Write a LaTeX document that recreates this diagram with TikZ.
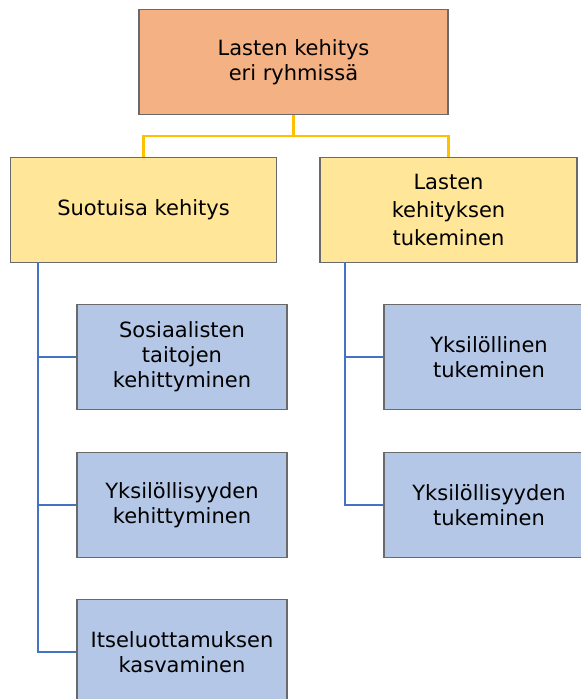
\documentclass[tikz,border=0pt]{standalone}
\usepackage{fontspec}
\setmainfont{DejaVu Sans}
\definecolor{topfill}{HTML}{F4B183}
\definecolor{midfill}{HTML}{FFE699}
\definecolor{lowfill}{HTML}{B4C7E7}
\definecolor{boxline}{HTML}{6A6A6A}
\definecolor{goldline}{HTML}{FFC000}
\definecolor{blueline}{HTML}{4472C4}
\tikzset{
  box/.style={draw=boxline, line width=1.2pt, rectangle, align=center, inner sep=0pt,
    font=\fontsize{21}{25}\selectfont, text=black},
  topbox/.style={box, fill=topfill, minimum width=309pt, minimum height=105pt},
  midbox/.style={box, fill=midfill, minimum height=104.5pt},
  lowbox/.style={box, fill=lowfill, minimum width=210pt, minimum height=105pt},
  goldconn/.style={draw=goldline, line width=2.8pt},
  blueconn/.style={draw=blueline, line width=2.8pt},
}
\begin{document}
\begin{tikzpicture}[x=1pt,y=-1pt]
\useasboundingbox (0,0) rectangle (581,699);
\node[topbox] (top) at (293.5,62) {Lasten kehitys\\eri ryhmissä};
\node[midbox, minimum width=266pt] (yl) at (143.5,210) {Suotuisa kehitys};
\node[midbox, minimum width=257pt, font=\fontsize{21}{28}\selectfont] (yr) at (448.5,210) {Lasten\\kehityksen\\tukeminen};
\node[lowbox] (l1) at (182,357) {Sosiaalisten\\taitojen\\kehittyminen};
\node[lowbox] (l2) at (182,505) {Yksilöllisyyden\\kehittyminen};
\node[lowbox] (l3) at (182,652) {Itseluottamuksen\\kasvaminen};
\node[lowbox] (r1) at (489,357) {Yksilöllinen\\tukeminen};
\node[lowbox] (r2) at (489,505) {Yksilöllisyyden\\tukeminen};
\coordinate (tl) at (38,262);
\coordinate (tr) at (345,262);
\coordinate (bus) at (293.5,136);
\draw[goldconn] (top.south) -- (bus) -| (yl.north);
\draw[goldconn] (bus) -| (yr.north);
\draw[blueconn] (tl) |- (l1.west);
\draw[blueconn] (tl) |- (l2.west);
\draw[blueconn] (tl) |- (l3.west);
\draw[blueconn] (tr) |- (r1.west);
\draw[blueconn] (tr) |- (r2.west);
\end{tikzpicture}
\end{document}
